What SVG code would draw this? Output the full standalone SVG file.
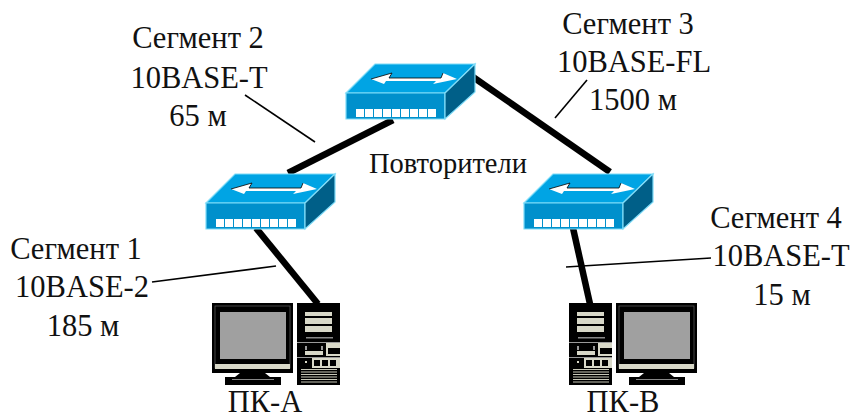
<svg xmlns="http://www.w3.org/2000/svg" width="850" height="414" viewBox="0 0 850 414">
<style>
text{font-family:"Liberation Serif","Times New Roman",serif;font-size:30.5px;fill:#111;text-anchor:middle}
.thick{stroke:#000;stroke-width:6.5;fill:none}
.thin{stroke:#000;stroke-width:1.6;fill:none}
.k{fill:#000}.l{fill:#d8d8c8}.s{fill:#a0a0a0}
</style>
<defs>
<g id="hub">
<path d="M346 93L375 64H475L445 93Z" fill="#00a4e4" stroke="#7fdcf8" stroke-width="1.2"/>
<path d="M346 93H445V119H346Z" fill="#0090cc" stroke="#7fdcf8" stroke-width="1.2"/>
<path d="M445 93L475 64V92L445 119Z" fill="#005f88" stroke="#7fdcf8" stroke-width="1.2"/>
<path d="M371 79L392 73L389 78H441L443 73L457 79L433 84L436 81H386L384 84Z" fill="#fff"/>
<path d="M371 79L392 73L389 78H441L443 73" fill="none" stroke="#000" stroke-width=".8"/>
<g fill="#fff">
<rect x="356" y="109" width="8" height="8"/><rect x="365" y="109" width="8" height="8"/><rect x="374" y="109" width="8" height="8"/><rect x="383" y="109" width="8" height="8"/><rect x="392" y="109" width="8" height="8"/><rect x="401" y="109" width="8" height="8"/><rect x="410" y="109" width="8" height="8"/><rect x="419" y="109" width="8" height="8"/><rect x="428" y="109" width="8" height="8"/>
</g>
</g>
<g id="monitor">
<rect class="k" x="212" y="303" width="81" height="70"/>
<rect x="215" y="306" width="75" height="62" fill="none" stroke="#555" stroke-width=".8"/>
<rect class="s" x="220" y="312" width="66" height="47"/>
<rect class="l" x="215" y="364" width="75" height="5"/>
<path class="k" d="M240 373H265L270 377H281V385H225V377H235Z"/>
<rect x="232" y="379" width="42" height="1" fill="#888"/>
</g>
<g id="tower">
<rect class="k" x="297" y="303" width="43" height="82"/>
<rect class="l" x="305" y="312" width="27" height="4"/>
<rect class="l" x="305" y="318" width="27" height="6"/>
<rect class="l" x="305" y="326" width="27" height="6"/>
<rect x="306" y="337" width="27" height="1.500" fill="#888"/>
<rect x="297" y="342" width="43" height="1" fill="#999"/>
<rect class="l" x="326" y="343" width="14" height="13"/>
<rect class="k" x="328" y="348" width="12" height="6"/>
<rect class="l" x="305" y="351" width="18" height="4"/>
<rect x="305" y="346" width="2" height="4" fill="#999"/>
<rect x="321" y="346" width="2" height="4" fill="#999"/>
<rect x="297" y="357" width="43" height="1" fill="#999"/>
<rect class="l" x="305" y="361" width="2" height="2"/>
<rect class="l" x="312" y="358" width="28" height="10"/>
<rect class="k" x="314" y="360" width="6" height="6"/>
<rect class="k" x="322" y="360" width="6" height="6"/>
<rect class="k" x="330" y="360" width="6" height="6"/>
<g fill="#c8c8b8"><rect x="301" y="369" width="36" height="1"/><rect x="301" y="371.500" width="36" height="1"/><rect x="301" y="374" width="36" height="1"/><rect x="301" y="376.500" width="36" height="1"/><rect x="301" y="379" width="36" height="1"/><rect x="301" y="381.500" width="36" height="1"/></g>
</g>
</defs>
<g id="connectors">
<line class="thick" x1="288" y1="173" x2="393" y2="120"/>
<line class="thick" x1="473" y1="77" x2="610" y2="172"/>
<line class="thick" x1="256" y1="228" x2="318" y2="304"/>
<line class="thick" x1="573" y1="228" x2="590" y2="304"/>
<line class="thin" x1="245" y1="95" x2="315" y2="142"/>
<line class="thin" x1="587" y1="80" x2="555" y2="118"/>
<line class="thin" x1="152" y1="282" x2="276" y2="266"/>
<line class="thin" x1="566" y1="267" x2="711" y2="258"/>
</g>
<g id="hub-top"><use href="#hub"/></g>
<g id="hub-left"><use href="#hub" x="-140" y="110"/></g>
<g id="hub-right"><use href="#hub" x="178" y="110"/></g>
<g id="pc-a"><use href="#monitor"/><use href="#tower"/><text x="265" y="412">ПК-А</text></g>
<g id="pc-b"><use href="#monitor" x="404"/><use href="#tower" x="272"/><text x="623" y="412">ПК-В</text></g>
<g id="labels">
<text x="198" y="48">Сегмент 2</text><text x="199" y="88">10BASE-T</text><text x="198" y="126">65 м</text>
<text x="628" y="34">Сегмент 3</text><text x="634" y="72">10BASE-FL</text><text x="633" y="110">1500 м</text>
<text x="76" y="259">Сегмент 1</text><text x="82" y="297">10BASE-2</text><text x="83" y="336">185 м</text>
<text x="776" y="228">Сегмент 4</text><text x="781" y="266">10BASE-T</text><text x="782" y="305">15 м</text>
<text x="448" y="173" style="font-size:28.5px">Повторители</text>
</g>
</svg>
